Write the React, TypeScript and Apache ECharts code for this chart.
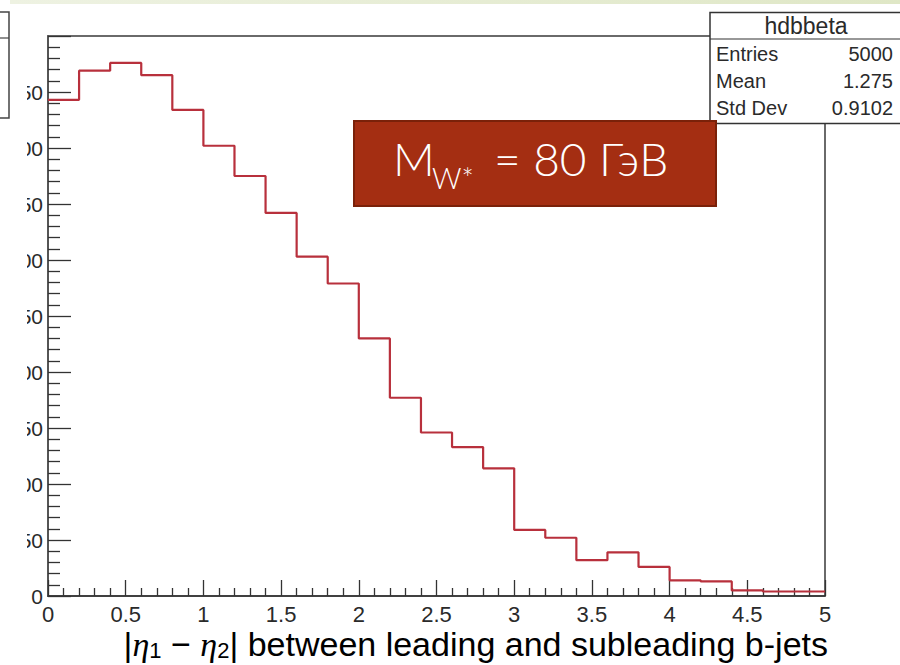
import React, { useEffect, useRef } from "react";
import * as echarts from "echarts";

// Histogram definition: |eta1 - eta2| of the two b-jets, 25 bins over [0, 5]
const histName = "hdbbeta";
const xMin = 0;
const xMax = 5;
const binWidth = 0.2;
const binCounts = [
  443, 469, 476, 465, 434, 402, 375, 342, 303, 279, 230, 177, 146, 133, 114,
  59, 52, 32, 39, 26, 14, 13, 5, 4, 4,
];

// Statistics panel
const statLabels = ["Entries", "Mean", "Std Dev"];
const statValues = ["5000", "1.275", "0.9102"];

// Axis ranges
const yMax = 500;
const yStep = 50;
const xStep = 0.5;

const FONT = "'Liberation Sans', Arial, Helvetica, sans-serif";
const INK = "#2a2a2a";

export default function App() {
  const ref = useRef<HTMLDivElement>(null);

  useEffect(() => {
    if (!ref.current) return;
    const chart = echarts.init(ref.current, null, { renderer: "svg" });

    // Step outline: each bin's left edge carries its count, plus the closing right edge
    const stepData: [number, number][] = binCounts.map((c, i) => [
      +(xMin + i * binWidth).toFixed(2),
      c,
    ]);
    stepData.push([xMax, binCounts[binCounts.length - 1]]);

    const statsX = 710;
    const statsTop = 12.5;
    const rowH = 27;

    const statTexts: any[] = [];
    statLabels.forEach((lab, i) => {
      const cy = 54 + i * rowH;
      statTexts.push({
        type: "text",
        x: 716,
        y: cy,
        z: 20,
        style: {
          text: lab,
          font: `20px ${FONT}`,
          fill: INK,
          textAlign: "left",
          textVerticalAlign: "middle",
        },
      });
      statTexts.push({
        type: "text",
        x: 893,
        y: cy,
        z: 20,
        style: {
          text: statValues[i],
          font: `20px ${FONT}`,
          fill: INK,
          textAlign: "right",
          textVerticalAlign: "middle",
        },
      });
    });

    chart.setOption({
      animation: false,
      backgroundColor: "#ffffff",
      grid: {
        left: 48,
        right: 75,
        top: 36,
        bottom: 69,
        show: true,
        borderColor: "#3a3a3a",
        borderWidth: 1.5,
        backgroundColor: "transparent",
      },
      xAxis: {
        type: "value",
        min: xMin,
        max: xMax,
        interval: xStep,
        axisLine: { lineStyle: { color: "#333", width: 1.5 } },
        axisTick: {
          inside: true,
          length: 16,
          lineStyle: { color: "#333", width: 1.3 },
        },
        minorTick: {
          show: true,
          splitNumber: 5,
          length: 8,
          lineStyle: { color: "#333", width: 1.3 },
        },
        splitLine: { show: false },
        axisLabel: {
          fontFamily: FONT,
          fontSize: 22,
          lineHeight: 22,
          color: INK,
          margin: 7,
          formatter: (v: number) => String(v),
        },
      },
      yAxis: {
        type: "value",
        min: 0,
        max: yMax,
        interval: yStep,
        axisLine: { show: true, lineStyle: { color: "#555", width: 2 } },
        axisTick: {
          inside: true,
          length: 23,
          lineStyle: { color: "#333", width: 1.3 },
        },
        minorTick: {
          show: true,
          splitNumber: 5,
          length: 12,
          lineStyle: { color: "#333", width: 1.3 },
        },
        splitLine: { show: false },
        axisLabel: {
          fontFamily: FONT,
          fontSize: 21,
          color: INK,
          margin: 5,
          showMaxLabel: false,
        },
      },
      series: [
        {
          type: "line",
          step: "end",
          data: stepData,
          symbol: "none",
          lineStyle: { color: "#b8303c", width: 2.2 },
          z: 5,
        },
      ],
      graphic: [
        // pale strip along the top edge
        {
          type: "rect",
          z: 30,
          shape: { x: 10, y: 0, width: 890, height: 4 },
          style: {
            fill: new echarts.graphic.LinearGradient(0, 0, 1, 0, [
              { offset: 0, color: "#eef2e2" },
              { offset: 1, color: "#dfe7c6" },
            ]),
          },
        },
        // left margin hides the leading digits of the y labels
        {
          type: "rect",
          z: 30,
          shape: { x: 0, y: 4, width: 27, height: 620 },
          style: { fill: "#ffffff" },
        },
        // edge of the neighbouring panel
        {
          type: "polyline",
          z: 31,
          shape: { points: [[0, 12], [9, 12], [9, 118], [0, 118]] },
          style: { stroke: "#444", lineWidth: 1.5, fill: "none" },
        },
        {
          type: "line",
          z: 31,
          shape: { x1: 0, y1: 38, x2: 9, y2: 38 },
          style: { stroke: "#444", lineWidth: 1.2 },
        },
        // statistics box
        {
          type: "rect",
          z: 19,
          shape: { x: statsX, y: statsTop, width: 200, height: 111 },
          style: { fill: "#ffffff", stroke: "#333", lineWidth: 1.5 },
        },
        {
          type: "line",
          z: 20,
          shape: { x1: statsX, y1: 39, x2: 900, y2: 39 },
          style: { stroke: "#333", lineWidth: 1.2 },
        },
        {
          type: "text",
          x: 806,
          y: 26,
          z: 20,
          style: {
            text: histName,
            font: `23px ${FONT}`,
            fill: INK,
            textAlign: "center",
            textVerticalAlign: "middle",
          },
        },
        ...statTexts,
        // mass label
        {
          type: "rect",
          z: 25,
          shape: { x: 354, y: 121, width: 362, height: 85 },
          style: { fill: "#a42e12", stroke: "#7a2109", lineWidth: 2 },
        },
        {
          type: "text",
          x: 393,
          y: 181,
          z: 26,
          style: {
            text: "M",
            font: `300 46px Lato, 'Open Sans', sans-serif`,
            fill: "#ffffff",
            textAlign: "left",
            textVerticalAlign: "bottom",
          },
        },
        {
          type: "text",
          x: 432,
          y: 192,
          z: 26,
          style: {
            text: "W*",
            font: `300 29px Lato, 'Open Sans', sans-serif`,
            fill: "#ffffff",
            textAlign: "left",
            textVerticalAlign: "bottom",
          },
        },
        {
          type: "text",
          x: 494,
          y: 181,
          z: 26,
          style: {
            text: "= 80 ГэВ",
            font: `300 46px Lato, 'Open Sans', sans-serif`,
            fill: "#ffffff",
            textAlign: "left",
            textVerticalAlign: "bottom",
          },
        },
        // x-axis title, right-aligned to the axis end
        {
          type: "text",
          x: 828,
          y: 644,
          z: 20,
          style: {
            text:
              "{t||}{e|η}{s|1}{t| − }{e|η}{s|2}{t|| between leading and subleading b-jets}",
            textAlign: "right",
            textVerticalAlign: "middle",
            rich: {
              t: {
                fontFamily: FONT,
                fontSize: 34,
                color: INK,
                lineHeight: 34,
              },
              e: {
                fontFamily: "'Liberation Serif', 'DejaVu Serif', serif",
                fontStyle: "italic",
                fontSize: 34,
                color: INK,
                lineHeight: 34,
              },
              s: {
                fontFamily: FONT,
                fontSize: 22,
                color: INK,
                lineHeight: 22,
                verticalAlign: "bottom",
              },
            },
          },
        },
      ],
    });

    return () => chart.dispose();
  }, []);

  return (
    <div
      ref={ref}
      style={{
        position: "absolute",
        left: 0,
        top: 0,
        width: 900,
        height: 665,
      }}
    />
  );
}
